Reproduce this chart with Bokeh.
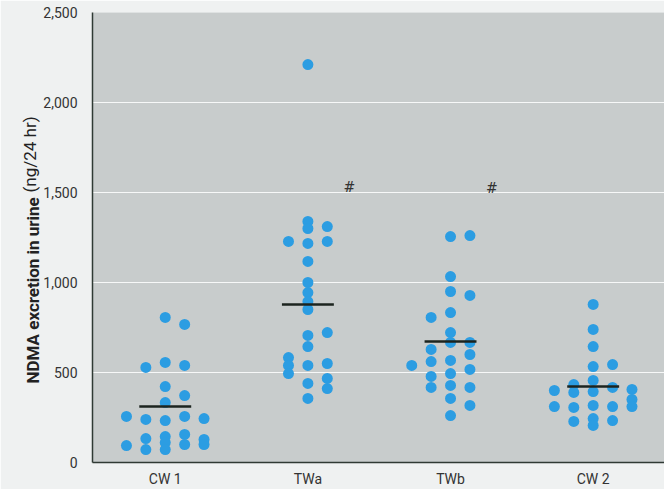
import math
from bokeh.plotting import figure
from bokeh.models import Range1d, FixedTicker, Label
from bokeh.core.properties import value
from bokeh.embed import file_html
from bokeh.resources import INLINE

# ---- data ----
groups = ["CW 1", "TWa", "TWb", "CW 2"]

cw1_values = [806, 767, 528, 556, 539, 422, 372, 333, 256, 239, 233, 256, 244,
              94, 133, 72, 144, 111, 72, 156, 100, 128, 100]
cw1_cols = [0, 1, -1, 0, 1, 0, 1, 0, -2, -1, 0, 1, 2,
            -2, -1, -1, 0, 0, 0, 1, 1, 2, 2]

twa_values = [2211, 1339, 1300, 1311, 1228, 1217, 1228, 1117, 1000, 944, 894, 850,
              706, 644, 722, 583, 539, 494, 539, 550, 439, 356, 467, 411]
twa_cols = [0, 0, 0, 1, -1, 0, 1, 0, 0, 0, 0, 0,
            0, 0, 1, -1, -1, -1, 0, 1, 0, 0, 1, 1]

twb_values = [1255, 1261, 1033, 950, 928, 833, 806, 722, 667, 667, 600, 628,
              561, 539, 567, 494, 428, 356, 261, 517, 417, 317, 478, 417]
twb_cols = [0, 1, 0, 0, 1, 0, -1, 0, 0, 1, 1, -1,
            -1, -2, 0, 0, 0, 0, 0, 1, 1, 1, -1, -1]

cw2_values = [878, 739, 644, 533, 544, 456, 394, 433, 389, 417, 400, 311,
              406, 350, 311, 306, 228, 317, 244, 206, 311, 233]
cw2_cols = [0, 0, 0, 0, 1, 0, 0, -1, -1, 1, -2, -2,
            2, 2, 2, -1, -1, 0, 0, 0, 1, 1]

medians = [311, 878, 672, 422]

sig_groups = [2, 3]          # groups marked with "#"
sig_values = [1530, 1525]
sig_labels = ["#", "#"]

y_ticks = [0, 500, 1000, 1500, 2000, 2500]

# ---- styling ----
DOT = "#2c9de2"
FRAME_BG = "#c8cccc"
PAGE_BG = "#eff1f1"
AXIS = "#2f3a34"
TXT = "#333333"
col_step = 0.136
med_half = 0.182

p = figure(width=664, height=489, output_backend="svg", toolbar_location=None,
           x_range=Range1d(0.49, 4.5), y_range=Range1d(0, 2500),
           min_border_left=89, min_border_right=0, min_border_top=12,
           min_border_bottom=26)
p.background_fill_color = FRAME_BG
p.border_fill_color = PAGE_BG
p.outline_line_color = None

all_vals = [cw1_values, twa_values, twb_values, cw2_values]
all_cols = [cw1_cols, twa_cols, twb_cols, cw2_cols]
xs, ys = [], []
for gi, (vals, cols) in enumerate(zip(all_vals, all_cols)):
    for v, c in zip(vals, cols):
        xs.append(gi + 1 + c * col_step)
        ys.append(v)
p.scatter(xs, ys, size=11, color=DOT, line_color=None)

gx = [i + 1 for i in range(len(groups))]
p.segment(x0=[g - med_half for g in gx], y0=medians,
          x1=[g + med_half for g in gx], y1=medians,
          line_color="#1c241f", line_width=2.5)

p.text(x=[g + 0.29 for g in sig_groups], y=sig_values, text=sig_labels,
       text_font=value("DejaVu Serif"), text_font_style="italic",
       text_font_size="14px", text_color=TXT, text_align="center",
       text_baseline="middle")

# axes
p.xgrid.grid_line_color = None
p.ygrid.grid_line_color = "white"
p.ygrid.grid_line_alpha = 0.85
p.ygrid.grid_line_width = 1
p.ygrid.ticker = FixedTicker(ticks=y_ticks)

p.yaxis.ticker = FixedTicker(ticks=y_ticks)
p.yaxis.major_label_overrides = {t: f"{t:,}" for t in y_ticks}
p.xaxis.ticker = FixedTicker(ticks=gx)
p.xaxis.major_label_overrides = {g: name for g, name in zip(gx, groups)}

for ax in (p.xaxis, p.yaxis):
    ax.axis_line_color = AXIS
    ax.axis_line_width = 1.5
    ax.major_tick_line_color = None
    ax.minor_tick_line_color = None
    ax.major_label_text_font = "Roboto"
    ax.major_label_text_font_size = "14px"
    ax.major_label_text_color = TXT
p.yaxis.major_label_standoff = 9
p.xaxis.major_label_standoff = 2

# y-axis title: bold part + normal part, in side panels (not clipped)
p.add_layout(Label(x=12, y=79, x_units="screen", y_units="screen",
                   text="NDMA excretion in urine", angle=math.pi / 2,
                   text_font="Roboto", text_font_style="bold", text_font_size="17px",
                   text_color="#222222", text_align="left", text_baseline="middle"), "left")
p.add_layout(Label(x=29, y=270, x_units="screen", y_units="screen",
                   text="(ng/24 hr)", angle=math.pi / 2,
                   text_font="Roboto", text_font_style="normal", text_font_size="17px",
                   text_color="#222222", text_align="left", text_baseline="middle"), "left")

open("out.html", "w").write(file_html(p, INLINE))
